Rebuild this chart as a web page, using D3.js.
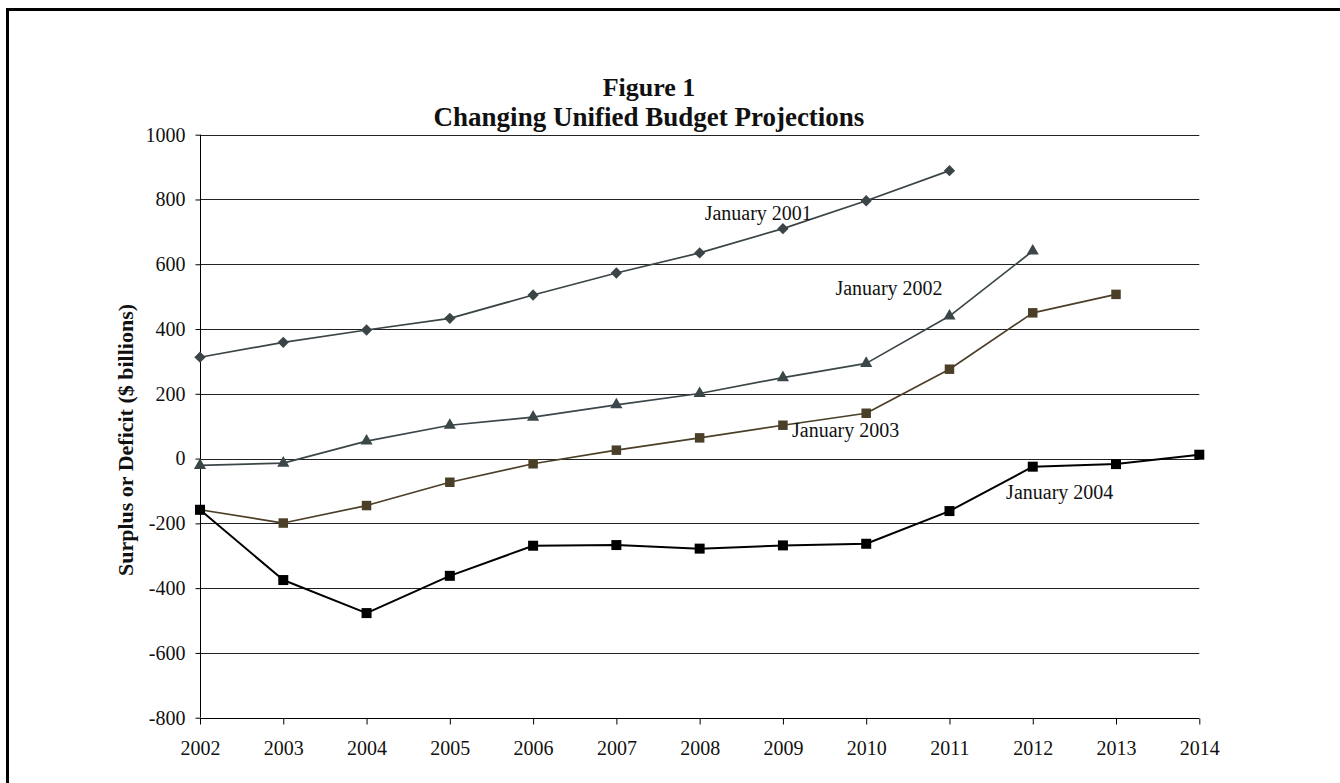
<!DOCTYPE html>
<html>
<head>
<meta charset="utf-8">
<script src="https://cdn.jsdelivr.net/npm/d3@7"></script>
<style>
  html, body { margin: 0; padding: 0; background: #fff; }
  svg { display: block; font-family: "Liberation Serif", "Times New Roman", serif; }
</style>
</head>
<body>
<svg id="chart" width="1340" height="783"></svg>
<script>
// Fiscal years on the horizontal axis
const years = [2002, 2003, 2004, 2005, 2006, 2007, 2008, 2009, 2010, 2011, 2012, 2013, 2014];
const yTicks = [1000, 800, 600, 400, 200, 0, -200, -400, -600, -800];

// Projected unified surplus (+) or deficit (-), $ billions, by baseline date
const jan2001 = [313, 359, 397, 433, 505, 573, 635, 710, 796, 889];
const jan2002 = [-21, -14, 54, 103, 128, 166, 201, 250, 294, 440, 641];
const jan2003 = [-158, -199, -145, -73, -16, 26, 64, 103, 140, 276, 450, 507];
const jan2004 = [-158, -375, -477, -362, -269, -267, -278, -268, -263, -162, -25, -17, 12];

const seriesNames = ["January 2001", "January 2002", "January 2003", "January 2004"];

const svg = d3.select("#chart");
const W = 1340, H = 783;

// Page frame (left and top rules)
svg.append("path")
  .attr("d", `M7.5,${H} V9.5 H${W}`)
  .attr("fill", "none").attr("stroke", "#000").attr("stroke-width", 3);

const x = d3.scaleLinear().domain([2002, 2014]).range([200, 1199.3]);
const y = d3.scaleLinear().domain([-800, 1000]).range([717.7, 134.7]);

// Title
const title = svg.append("g")
  .attr("text-anchor", "middle")
  .attr("font-weight", "bold")
  .attr("font-size", 26)
  .attr("fill", "#111");
title.append("text").attr("x", 649).attr("y", 96).text("Figure 1");
title.append("text").attr("x", 649).attr("y", 126).attr("font-size", 27).text("Changing Unified Budget Projections");

// Horizontal gridlines
svg.append("g")
  .selectAll("line")
  .data(yTicks.filter(d => d > -800))
  .join("line")
  .attr("x1", x(2002)).attr("x2", x(2014))
  .attr("y1", d => Math.round(y(d)) + 0.5).attr("y2", d => Math.round(y(d)) + 0.5)
  .attr("stroke", "#222").attr("stroke-width", 1);

// Y axis
const yAxis = d3.axisLeft(y).tickValues(yTicks).tickSize(5).tickPadding(10).tickFormat(d => String(d));
const gy = svg.append("g").attr("transform", `translate(${Math.round(x(2002)) + 0.5},0)`).call(yAxis);
gy.selectAll("text").attr("font-size", 20).attr("fill", "#111").attr("font-family", "Liberation Serif, serif");
gy.selectAll("line, path").attr("stroke", "#000");
gy.select(".domain").attr("d", `M0,${y(1000)}V${y(-800)}`);

// X axis
const xAxis = d3.axisBottom(x).tickValues(years).tickSize(6).tickPadding(16).tickFormat(d => String(d));
const gx = svg.append("g").attr("transform", `translate(0,${Math.round(y(-800)) + 0.5})`).call(xAxis);
gx.selectAll("text").attr("font-size", 20).attr("fill", "#111").attr("font-family", "Liberation Serif, serif");
gx.selectAll("line, path").attr("stroke", "#000");
gx.select(".domain").attr("d", `M${x(2002)},0H${x(2014)}`);

// Y axis title
svg.append("text")
  .attr("transform", `translate(133,440) rotate(-90)`)
  .attr("text-anchor", "middle")
  .attr("font-weight", "bold")
  .attr("font-size", 22)
  .attr("fill", "#111")
  .text("Surplus or Deficit ($ billions)");

// Series lines and markers
const series = [
  { name: seriesNames[0], values: jan2001, color: "#3b4446", width: 1.7, symbol: d3.symbolSquare, size: 64, rotate: 45 },
  { name: seriesNames[1], values: jan2002, color: "#3b4648", width: 1.7, symbol: d3.symbolTriangle, size: 64, rotate: 0 },
  { name: seriesNames[2], values: jan2003, color: "#4b3f28", width: 1.7, symbol: d3.symbolSquare, size: 90, rotate: 0 },
  { name: seriesNames[3], values: jan2004, color: "#000000", width: 2, symbol: d3.symbolSquare, size: 100, rotate: 0 }
];

const line = d3.line().x((d, i) => x(years[i])).y(d => y(d));

series.forEach(s => {
  const g = svg.append("g").attr("class", "series");
  g.append("path")
    .datum(s.values)
    .attr("d", line)
    .attr("fill", "none")
    .attr("stroke", s.color)
    .attr("stroke-width", s.width)
    .attr("stroke-linejoin", "round");
  g.selectAll("path.marker")
    .data(s.values)
    .join("path")
    .attr("class", "marker")
    .attr("d", d3.symbol().type(s.symbol).size(s.size))
    .attr("transform", (d, i) => `translate(${x(years[i])},${y(d)}) rotate(${s.rotate})`)
    .attr("fill", s.color);
});

// Series labels, anchored in data coordinates
const labelAnchors = [
  { year: 2008.06, value: 737 },
  { year: 2009.63, value: 505 },
  { year: 2009.11, value: 67 },
  { year: 2011.68, value: -125 }
];
svg.append("g")
  .selectAll("text")
  .data(seriesNames)
  .join("text")
  .attr("x", (d, i) => x(labelAnchors[i].year))
  .attr("y", (d, i) => y(labelAnchors[i].value))
  .attr("font-size", 20)
  .attr("fill", "#111")
  .text(d => d);
</script>
</body>
</html>
